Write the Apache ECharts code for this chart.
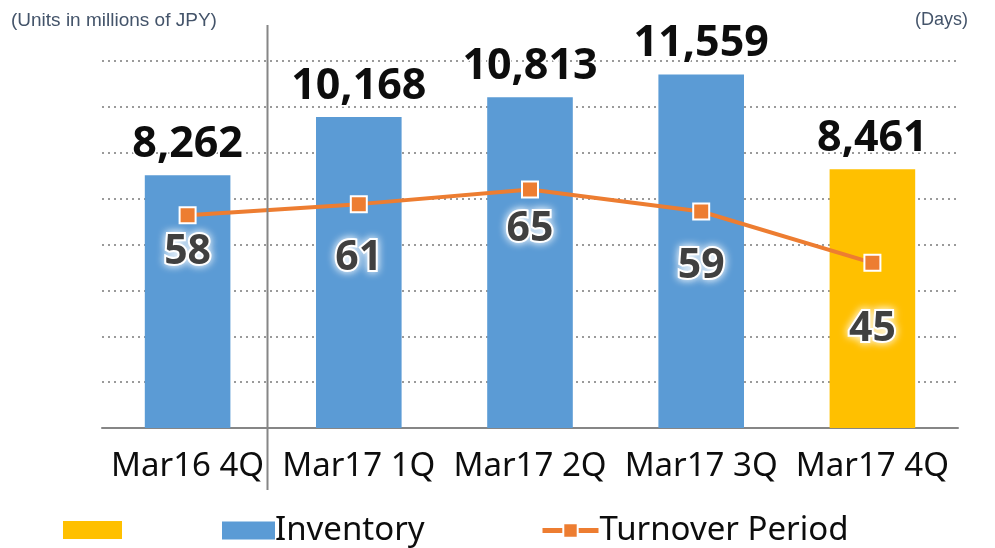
<!DOCTYPE html>
<html>
<head>
<meta charset="utf-8">
<script src="https://cdn.jsdelivr.net/npm/echarts@6/dist/echarts.min.js"></script>
<style>html,body{margin:0;padding:0;background:#fff;}#c{width:995px;height:548px;}</style>
</head>
<body>
<div id="c"></div>
<script>
const categories = ['Mar16 4Q', 'Mar17 1Q', 'Mar17 2Q', 'Mar17 3Q', 'Mar17 4Q'];
const inventory = [8262, 10168, 10813, 11559, 8461];
const turnoverDays = [58, 61, 65, 59, 45];
const highlightIndex = 4;
const leftAxisMax = 12000, leftAxisInterval = 1500;
const rightAxisMax = 100, rightAxisInterval = 12.5;
// label vertical offsets (style only)
const dayLabelOffsets = [37, 54, 40, 55, 66];

const BLUE = '#5B9BD5', YELLOW = '#FFC000', ORANGE = '#ED7D31';
const numFont = 'Noto Sans';

const chart = echarts.init(document.getElementById('c'), null, {renderer: 'canvas'});

const barLabel = {
  show: true, position: 'top', distance: 9,
  fontFamily: numFont, fontWeight: 'bold', fontSize: 43, color: '#0D0D0D',
  textBorderColor: '#fff', textBorderWidth: 3,
  formatter: p => p.value.toLocaleString('en-US')
};
const legendText = {fontFamily: 'Noto Sans', fontSize: 33, color: '#0D0D0D', padding: [0, 0, 6, -5]};

const option = {
  animation: false,
  title: [
    {text: '(Units in millions of JPY)', left: 6, top: 6,
     textStyle: {fontFamily: 'Liberation Sans', fontSize: 19, fontWeight: 'normal', color: '#44546A'}},
    {text: '(Days)', right: 22, top: 6,
     textStyle: {fontFamily: 'Liberation Sans', fontSize: 18, fontWeight: 'normal', color: '#44546A'}}
  ],
  grid: {left: 102, right: 37, top: 61, bottom: 120},
  legend: [
    {data: [{name: ' ', icon: 'rect'}], left: 58, top: 516, itemWidth: 59, itemHeight: 18, formatter: () => '',
     textStyle: legendText, selectedMode: false},
    {data: [{name: 'Inventory', icon: 'rect'}], left: 217, top: 509, itemWidth: 53, itemHeight: 18, itemGap: 0,
     textStyle: legendText, selectedMode: false},
    {data: ['Turnover Period'], left: 535, top: 509, itemWidth: 56, itemHeight: 18,
     lineStyle: {width: 5, color: ORANGE},
     textStyle: Object.assign({}, legendText, {padding: [0, 0, 6, -4]}), selectedMode: false}
  ],
  xAxis: {
    type: 'category', data: categories,
    axisLine: {lineStyle: {color: '#868686', width: 2}},
    axisTick: {show: false},
    axisLabel: {interval: 0, fontFamily: 'Noto Sans', fontSize: 33, color: '#0D0D0D', margin: 22}
  },
  yAxis: [
    {type: 'value', min: 0, max: leftAxisMax, interval: leftAxisInterval,
     axisLabel: {show: false}, axisLine: {show: false}, axisTick: {show: false},
     splitLine: {lineStyle: {type: [2, 4], color: '#9A9A9A', width: 2}}},
    {type: 'value', min: 0, max: rightAxisMax, interval: rightAxisInterval,
     axisLabel: {show: false}, axisLine: {show: false}, axisTick: {show: false},
     splitLine: {show: false}}
  ],
  series: [
    {name: 'Inventory', type: 'bar', barWidth: '50%', z: 2,
     itemStyle: {color: BLUE},
     label: barLabel,
     data: inventory.map((v, i) => i === highlightIndex ? '-' : v)},
    {name: ' ', type: 'bar', barWidth: '50%', barGap: '-100%', z: 2,
     itemStyle: {color: YELLOW},
     label: barLabel,
     data: inventory.map((v, i) => i === highlightIndex ? v : '-')},
    {name: 'Turnover Period', type: 'line', yAxisIndex: 1, z: 5,
     symbol: 'rect', symbolSize: 16,
     lineStyle: {color: ORANGE, width: 4},
     itemStyle: {color: ORANGE, borderColor: '#fff', borderWidth: 2},
     label: {show: true, position: 'inside',
       fontFamily: numFont, fontWeight: 'bold', fontSize: 41, color: '#404040',
       textBorderColor: '#fff', textBorderWidth: 4,
       textShadowColor: 'rgba(255,255,255,0.9)', textShadowBlur: 8},
     data: turnoverDays.map((v, i) => ({value: v, label: {offset: [0, dayLabelOffsets[i]]}}))}
  ]
};
chart.setOption(option);

// separator between first and second categories
const x0 = chart.convertToPixel({xAxisIndex: 0}, categories[0]);
const x1 = chart.convertToPixel({xAxisIndex: 0}, categories[1]);
const sepX = Math.round(x0 + (x1 - x0) * 0.465) + 0.5;
chart.setOption({
  graphic: [{type: 'line', z: 10, shape: {x1: sepX, y1: 25, x2: sepX, y2: 490},
    style: {stroke: '#868686', lineWidth: 2}}]
});
</script>
</body>
</html>
